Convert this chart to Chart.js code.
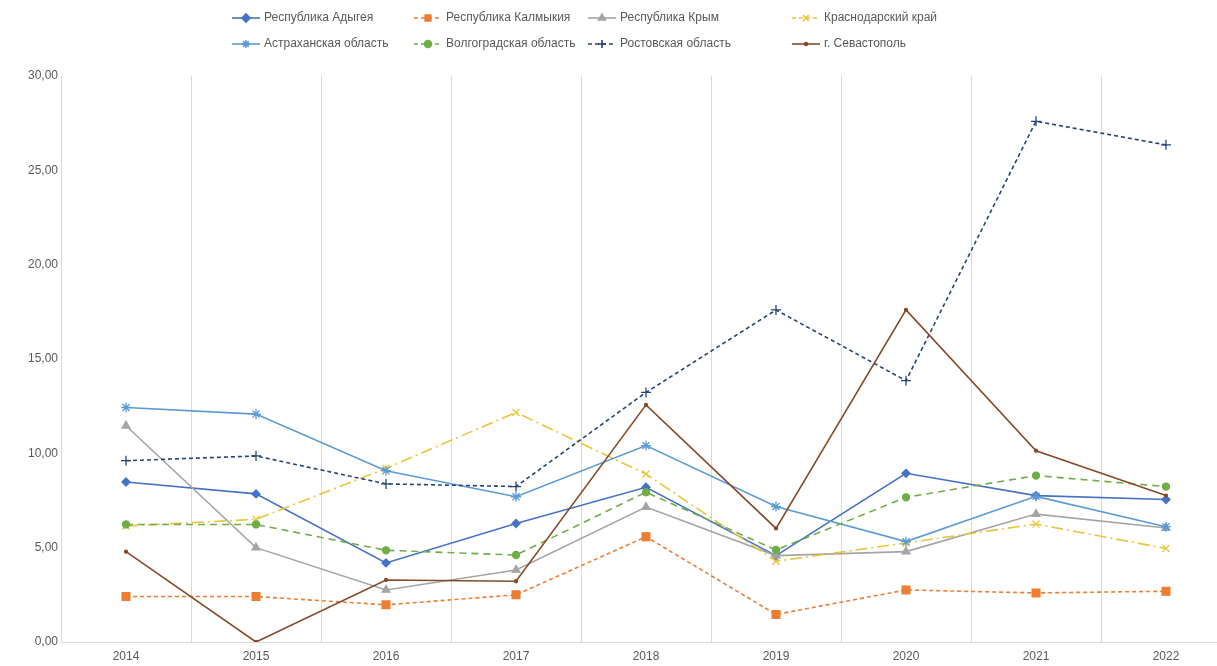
<!DOCTYPE html>
<html lang="ru">
<head>
<meta charset="utf-8">
<title>Регионы ЮФО 2014-2022</title>
<script src="https://cdn.jsdelivr.net/npm/chart.js"></script>
<style>
    html, body { margin: 0; padding: 0; background: #fff; overflow: hidden; }
    #wrap { width: 1240px; height: 666px; }
</style>
</head>
<body>
<div id="wrap"><canvas id="regionsChart" width="1240" height="666"></canvas></div>
<script>
const years = ['2014', '2015', '2016', '2017', '2018', '2019', '2020', '2021', '2022'];

const adygea     = [8.48, 7.85, 4.19, 6.28, 8.20, 4.58, 8.94, 7.76, 7.55];
const kalmykia   = [2.41, 2.41, 1.97, 2.50, 5.58, 1.46, 2.76, 2.60, 2.69];
const krym       = [11.46, 5.00, 2.76, 3.82, 7.15, 4.58, 4.79, 6.78, 6.04];
const krasnodar  = [6.15, 6.50, 9.20, 12.17, 8.90, 4.28, 5.25, 6.25, 4.96];
const astrakhan  = [12.43, 12.08, 9.08, 7.70, 10.41, 7.18, 5.32, 7.72, 6.11];
const volgograd  = [6.23, 6.23, 4.86, 4.61, 7.94, 4.88, 7.67, 8.82, 8.24];
const rostov     = [9.61, 9.86, 8.38, 8.24, 13.23, 17.60, 13.85, 27.60, 26.35];
const sevastopol = [4.79, 0.00, 3.29, 3.22, 12.57, 6.02, 17.60, 10.14, 7.76];

const yTicks = [0, 5, 10, 15, 20, 25, 30];

const textColor = '#595959';
const gridColor = '#d9d9d9';
const fontFamily = '"Liberation Sans", Arial, sans-serif';

function series(label, data, color, dash, pointStyle, radius) {
    return {
        label: label,
        data: data,
        borderColor: color,
        backgroundColor: color,
        pointBackgroundColor: color,
        pointBorderColor: color,
        borderWidth: 1.6,
        borderDash: dash,
        pointStyle: pointStyle,
        pointRadius: radius,
        pointBorderWidth: 1.3,
        tension: 0,
        fill: false
    };
}

const datasets = [
    series('Республика Адыгея', adygea, '#4472c4', [], 'rectRot', 4),
    series('Республика Калмыкия', kalmykia, '#ed7d31', [4, 3], 'rect', 5.5),
    series('Республика Крым', krym, '#a5a5a5', [], 'triangle', 4.5),
    series('Краснодарский край', krasnodar, '#e8c53a', [12, 4, 2, 4], 'crossRot', 5),
    series('Астраханская область', astrakhan, '#5b9bd5', [], 'star', 5),
    series('Волгоградская область', volgograd, '#70ad47', [7, 5], 'circle', 3.5),
    series('Ростовская область', rostov, '#264478', [4, 3], 'cross', 5),
    series('г. Севастополь', sevastopol, '#874a28', [], 'circle', 1.5)
];
// later series on top, like the source spreadsheet
datasets.forEach((ds, i) => { ds.order = datasets.length - i; });

// legend laid out as a 4x2 grid
const legendCols = [232, 414, 588, 792];
const legendRows = [18, 44];

const gridLegend = {
    id: 'gridLegend',
    afterDraw(chart) {
        const ctx = chart.ctx;
        ctx.save();
        chart.data.datasets.forEach((ds, i) => {
            const x = legendCols[i % 4];
            const y = legendRows[Math.floor(i / 4)];
            ctx.strokeStyle = ds.borderColor;
            ctx.lineWidth = 1.6;
            ctx.setLineDash(ds.borderDash.length ? [4, 3] : []);
            ctx.beginPath();
            ctx.moveTo(x, y);
            ctx.lineTo(x + 28, y);
            ctx.stroke();
            ctx.setLineDash([]);
            Chart.helpers.drawPoint(ctx, {
                pointStyle: ds.pointStyle,
                radius: Math.min(ds.pointRadius, 4),
                rotation: 0,
                borderWidth: 1.2
            }, x + 14, y);
            ctx.fillStyle = ds.borderColor;
            ctx.fill();
            ctx.fillStyle = textColor;
            ctx.font = '12px ' + fontFamily;
            ctx.textBaseline = 'middle';
            ctx.textAlign = 'left';
            ctx.fillText(ds.label, x + 32, y);
        });
        ctx.restore();
    }
};

const chart = new Chart(document.getElementById('regionsChart'), {
    type: 'line',
    data: { labels: years, datasets: datasets },
    plugins: [gridLegend],
    options: {
        responsive: false,
        animation: false,
        layout: { padding: { top: 76, right: 9, left: 0, bottom: 0 } },
        plugins: {
            legend: { display: false },
            tooltip: { enabled: false }
        },
        scales: {
            x: {
                offset: true,
                grid: { display: true, offset: true, color: gridColor, drawTicks: false, lineWidth: 1 },
                border: { display: true, color: gridColor },
                ticks: { color: textColor, font: { family: fontFamily, size: 12 }, padding: 7, maxRotation: 0 },
                afterFit(scale) { scale.height = 24; }
            },
            y: {
                min: 0,
                max: 30,
                afterBuildTicks(scale) { scale.ticks = yTicks.map(v => ({ value: v })); },
                grid: { display: false, drawTicks: false },
                border: { display: false },
                ticks: {
                    color: textColor,
                    font: { family: fontFamily, size: 12 },
                    padding: 3,
                    callback: v => v.toFixed(2).replace('.', ',')
                },
                afterFit(scale) { scale.width = 61; }
            }
        }
    }
});
</script>
</body>
</html>
